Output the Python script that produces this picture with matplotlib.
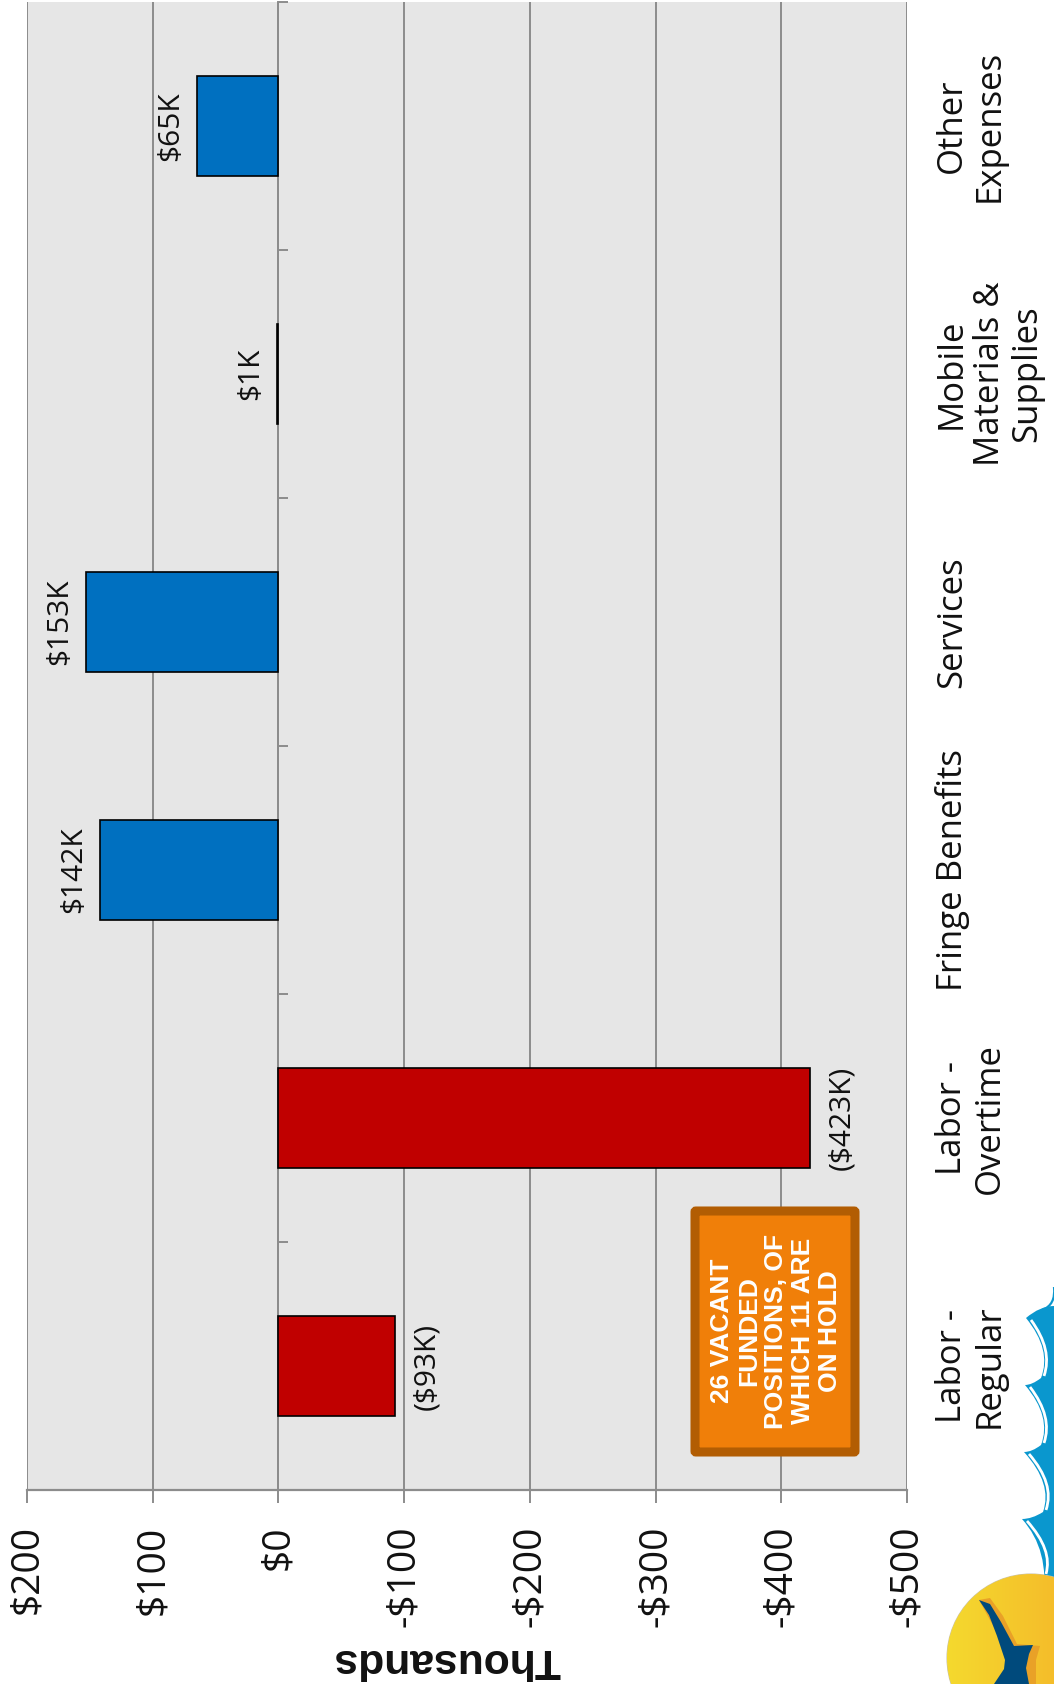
import matplotlib
matplotlib.use('Agg')
import matplotlib.pyplot as plt
import numpy as np
from matplotlib.patches import FancyBboxPatch, Circle, PathPatch, Polygon
from matplotlib.path import Path
from matplotlib.transforms import blended_transform_factory

categories = ['Labor -\nRegular', 'Labor -\nOvertime', 'Fringe Benefits',
              'Services', 'Mobile\nMaterials &\nSupplies', 'Other\nExpenses']
values = [-93, -423, 142, 153, 1, 65]
value_labels = ['($93K)', '($423K)', '$142K', '$153K', '$1K', '$65K']
x_ticks = [200, 100, 0, -100, -200, -300, -400, -500]
x_labels = ['$200', '$100', '$0', '-$100', '-$200', '-$300', '-$400', '-$500']
note = '26 VACANT\nFUNDED\nPOSITIONS, OF\nWHICH 11 ARE\nON HOLD'

W, H = 1054, 1684
GREY = '#8c8c8c'
BLUE = '#0070C0'
RED = '#C00000'
FONT = 'Open Sans'

fig = plt.figure(figsize=(W / 100, H / 100), dpi=100, facecolor='white')

# main chart, pixel box worked out from the reference
ax = fig.add_axes([27 / W, 1 - 1490 / H, (907 - 27) / W, (1490 - 2) / H])
ax.set_facecolor('#e6e6e6')
ax.set_xlim(200, -500)
ax.set_ylim(-0.5, 5.5)
ax.set_axisbelow(True)

pos = np.arange(len(categories))
colors = [BLUE if v > 0 else RED for v in values]
ax.barh(pos, values, height=0.403, color=colors, edgecolor='black', linewidth=1.2, zorder=3)

# value labels
for y, v, lab in zip(pos, values, value_labels):
    off = -8.5 if v > 0 else 12.5
    ax.annotate(lab, (v, y), xytext=(off, 0), textcoords='offset points', rotation=90,
                ha='right' if v > 0 else 'left', va='center', fontsize=21.5,
                family=FONT, color='#111111')

ax.set_xticks(x_ticks)
ax.set_xticklabels(x_labels, rotation=90, family=FONT, fontsize=28, va='top', ha='center')
ax.tick_params(axis='x', length=9.4, width=1.4, color=GREY, pad=16, labelcolor='#111111')
ax.grid(axis='x', color=GREY, linewidth=1.4)

# y axis sits on the zero line, ticks between the categories
ax.set_yticks(np.arange(-0.5, 6, 1))
ax.set_yticklabels([])
ax.yaxis.tick_right()
ax.tick_params(axis='y', length=7.5, width=1.4, color=GREY)
ax.spines['right'].set_position(('data', 0))
ax.spines['right'].set_color(GREY)
ax.spines['right'].set_linewidth(1.4)
ax.spines['bottom'].set_color(GREY)
ax.spines['bottom'].set_linewidth(1.6)
ax.spines['left'].set_visible(False)
ax.spines['top'].set_visible(False)

# category labels out past the right end of the axis
trans = blended_transform_factory(fig.transFigure, ax.transData)
for y, cat in zip(pos, categories):
    ax.text(935 / W, y, cat, transform=trans, rotation=90, ha='left', va='center',
            multialignment='center', fontsize=25, family=FONT, color='#111111',
            linespacing=1.14, clip_on=False)

# overlay in pixel coordinates for note box, axis title and logo
ov = fig.add_axes([0, 0, 1, 1], facecolor='none')
ov.set_xlim(0, W)
ov.set_ylim(H, 0)
ov.axis('off')

ov.text(447, 1660, 'Thousands', rotation=180, ha='center', va='center', fontsize=30.7,
        fontweight='bold', family='Liberation Sans', color='#111111')

ov.add_patch(FancyBboxPatch((695, 1211), 160, 241, boxstyle='round,pad=0,rounding_size=1',
                            facecolor='#F07F09', edgecolor='#B25D03', linewidth=6.5))
ov.text(776, 1331, note, rotation=90, ha='center', va='center', multialignment='center',
        fontsize=19, fontweight='bold', family='Liberation Sans', color='white', linespacing=1.15)

# logo: waves
wave = Path(
    [(1054, 1306), (1040, 1306), (1026, 1318),
     (1052, 1350), (1041, 1378), (1032, 1385), (1025, 1385),
     (1052, 1417), (1041, 1445), (1032, 1452), (1024, 1452),
     (1053, 1484), (1043, 1512), (1032, 1519), (1022, 1519),
     (1050, 1550), (1043, 1600), (1054, 1600), (1054, 1306)],
    [Path.MOVETO, Path.CURVE3, Path.CURVE3,
     Path.CURVE3, Path.CURVE3, Path.CURVE3, Path.CURVE3,
     Path.CURVE3, Path.CURVE3, Path.CURVE3, Path.CURVE3,
     Path.CURVE3, Path.CURVE3, Path.CURVE3, Path.CURVE3,
     Path.CURVE3, Path.CURVE3, Path.LINETO, Path.LINETO])
ov.add_patch(PathPatch(wave, facecolor='#0A97CE', edgecolor='none'))
for x0, y0, x1, y1, cx, cy in [(1031, 1320, 1044, 1376, 1053, 1350),
                               (1030, 1387, 1044, 1443, 1053, 1417),
                               (1029, 1454, 1046, 1510, 1055, 1484),
                               (1027, 1521, 1046, 1574, 1053, 1550)]:
    crest = Path([(x0, y0), (cx, cy), (x1, y1)], [Path.MOVETO, Path.CURVE3, Path.CURVE3])
    ov.add_patch(PathPatch(crest, facecolor='none', edgecolor='white', linewidth=2.0))
top = Path([(1054, 1287), (1056, 1305), (1042, 1310)], [Path.MOVETO, Path.CURVE3, Path.CURVE3])
ov.add_patch(PathPatch(top, facecolor='none', edgecolor='#0A97CE', linewidth=1.6))

# logo: sun with a left to right fade
sun = Circle((1031, 1658), 84, transform=ov.transData, facecolor='none', edgecolor='#c9c2a8', linewidth=0.8)
ov.add_patch(sun)
fade = np.linspace(0, 1, 64).reshape(1, -1, 1)
rgb = np.array([0.957, 0.851, 0.18]) * (1 - fade) + np.array([0.96, 0.68, 0.16]) * fade
im = ov.imshow(rgb, extent=(947, 1115, 1742, 1574), aspect='auto', zorder=2)
im.set_clip_path(sun)
ov.set_xlim(0, W)
ov.set_ylim(H, 0)

# logo: bird and its shadow
bird = [(979, 1600), (990, 1604), (1001, 1622), (1014, 1646), (1033, 1645), (1029, 1654),
        (1026, 1668), (1029, 1684), (994, 1684), (1004, 1669), (1005, 1660), (997, 1636), (989, 1615)]
shadow = [(979, 1600), (990, 1598), (1003, 1616), (1017, 1644), (1040, 1646), (1036, 1660),
          (1036, 1684), (1025, 1684)]
ov.add_patch(Polygon(shadow, facecolor='#E9A127', edgecolor='none', zorder=3))
ov.add_patch(Polygon(bird, facecolor='#004A7C', edgecolor='none', zorder=4))

fig.savefig('out.png', dpi=100)
